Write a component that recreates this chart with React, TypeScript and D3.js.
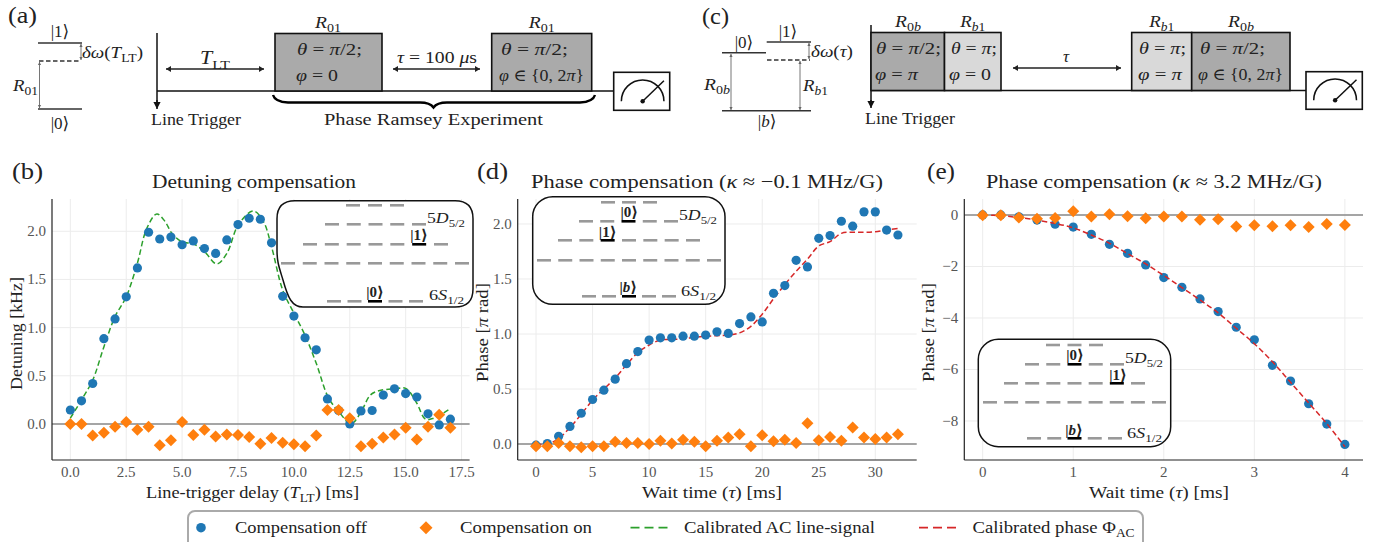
import React from "react";
import * as d3 from "d3";

const FONT = '"Liberation Serif","DejaVu Serif",serif';
const BLUE = "#1f77b4", ORANGE = "#ff7f0e", GREEN = "#2ca02c", RED = "#d62728";
const DARK = "#aaaaaa", LIGHT = "#d9d9d9", INK = "#222";

// Panel (b)
const bX = d3.range(0, 17.01, 0.5);
const bOff = [.145,.24,.42,.885,1.09,1.32,1.62,1.99,1.92,1.94,1.86,1.90,1.82,1.77,1.91,2.07,2.135,2.125,1.88,1.325,1.12,.895,.77,.26,.14,0,.135,.14,.30,.365,.315,.28,.105,-.01,.05];
const bOn = [0,0,-.12,-.09,-.03,.02,-.06,-.03,-.22,-.17,.02,-.115,-.06,-.13,-.11,-.115,-.135,-.205,-.145,-.195,-.21,-.23,-.12,.145,.145,.06,-.23,-.205,-.14,-.11,-.04,-.16,-.03,.095,-.04];
const bFitX = [0,.5,1,1.5,2,2.5,3,3.42,3.87,4.24,4.54,5,5.5,6,6.55,7,7.52,8.19,8.64,9,9.5,10,10.5,11,11.55,12.07,12.5,12.67,13.05,13.42,13.8,14.55,15,15.5,15.88,16.25,17];
const bFitY = [.06,.25,.455,.8,1.115,1.32,1.67,2.03,2.18,2.1,1.98,1.89,1.87,1.79,1.66,1.77,2.07,2.21,2.1,1.84,1.39,1.15,.92,.63,.27,.11,0,.015,.145,.3,.345,.365,.37,.215,.05,.06,.16];
const bXTicks = [0,2.5,5,7.5,10,12.5,15,17.5];
const bYTicks = [0,.5,1,1.5,2];

// Panel (d)
const dX = d3.range(0, 33);
const dOff = [-.01,.005,.07,.16,.28,.405,.49,.59,.73,.84,.945,.965,.965,.98,.98,.99,1.02,1.005,1.095,1.155,1.11,1.37,1.44,1.67,1.61,1.87,1.895,2.025,1.98,2.11,2.11,1.945,1.90];
const dOn = [-.02,-.02,.01,-.02,-.03,-.02,-.02,.02,.01,.01,0,.03,.005,.04,.02,-.02,.03,.06,.09,-.02,.08,.025,.04,.01,.19,.035,.065,.03,.15,.06,.045,.06,.09];
const dFit = [0,0,.05,.15,.27,.40,.50,.60,.72,.83,.90,.945,.95,.955,.97,.98,.985,.99,1.01,1.07,1.18,1.32,1.45,1.57,1.68,1.80,1.84,1.915,1.925,1.925,1.93,1.945,1.96];
const dXTicks = [0,5,10,15,20,25,30];
const dYTicks = [0,.5,1,1.5,2];

// Panel (e)
const eX = d3.range(0, 21).map(i => i * 0.2);
const eOff = [0,0,-.07,-.2,-.36,-.47,-.75,-1.14,-1.49,-1.94,-2.43,-2.81,-3.26,-3.75,-4.36,-4.85,-5.84,-6.45,-7.33,-8.12,-8.91];
const eOn = [-.01,-.01,-.1,-.15,-.12,.14,-.06,.03,-.05,-.13,-.06,-.06,-.19,-.17,-.45,-.4,-.44,-.4,-.47,-.35,-.39];
const eFit = [0,-.03,-.1,-.2,-.33,-.5,-.78,-1.1,-1.5,-1.9,-2.35,-2.82,-3.3,-3.8,-4.4,-5,-5.7,-6.5,-7.3,-8.1,-9];
const eXTicks = [0,1,2,3,4];
const eYTicks = [0,-2,-4,-6,-8];

type Seg = { t: string; it: boolean; sub: boolean };
function parse(s: string, sub = false): Seg[] {
  const out: Seg[] = [];
  const re = /\*([^*]+)\*|_\{((?:[^{}]|\*)+)\}|[^*_]+/g;
  let m: RegExpExecArray | null;
  while ((m = re.exec(s))) {
    if (m[1] !== undefined) out.push({ t: m[1], it: true, sub });
    else if (m[2] !== undefined) out.push(...parse(m[2], true));
    else out.push({ t: m[0], it: false, sub });
  }
  return out;
}

function Tex({ s, x, y, size = 16, w, anchor = "start", bold, fill = INK, rotate }: any) {
  const segs = parse(s);
  const drop = size * 0.25;
  let cur = 0;
  const kids = segs.map((g, i) => {
    const want = g.sub ? drop : 0;
    const dy = want - cur;
    cur = want;
    return (
      <tspan key={i} dy={dy || undefined} fontStyle={g.it ? "italic" : undefined} fontSize={g.sub ? size * 0.72 : undefined}>{g.t}</tspan>
    );
  });
  const extra: any = w ? { textLength: w, lengthAdjust: "spacingAndGlyphs" } : {};
  return (
    <text x={x} y={y} fontFamily={FONT} fontSize={size} fontWeight={bold ? "bold" : undefined} textAnchor={anchor} fill={fill}
      transform={rotate ? `rotate(-90 ${x} ${y})` : undefined} xmlSpace="preserve" {...extra}>{kids}</text>
  );
}

function Arrow({ x1, y1, x2, y2, both = true, color = "#222", sw = 1.5, head = 5, hw = 3 }: any) {
  const a = Math.atan2(y2 - y1, x2 - x1);
  const tri = (x: number, y: number, an: number) => {
    const bx = x - head * Math.cos(an), by = y - head * Math.sin(an);
    const nx = -Math.sin(an) * hw, ny = Math.cos(an) * hw;
    return `${x},${y} ${bx + nx},${by + ny} ${bx - nx},${by - ny}`;
  };
  return (
    <g>
      <line x1={x1} y1={y1} x2={x2} y2={y2} stroke={color} strokeWidth={sw} />
      <polygon points={tri(x2, y2, a)} fill={color} />
      {both && <polygon points={tri(x1, y1, a + Math.PI)} fill={color} />}
    </g>
  );
}

function Box({ x0, x1, y0, y1, fill }: any) {
  return <rect x={x0} y={y0} width={x1 - x0} height={y1 - y0} fill={fill} stroke="#111" strokeWidth={1.6} />;
}

function Meter({ x0, x1, y0, y1 }: any) {
  const cx = x0 + (x1 - x0) * 0.517, cy = y0 + (y1 - y0) * 0.76;
  const r = (x1 - x0) * 0.38;
  return (
    <g>
      <rect x={x0} y={y0} width={x1 - x0} height={y1 - y0} fill="#fff" stroke="#111" strokeWidth={1.6} />
      <path d={`M${cx - r},${cy} A${r},${r} 0 0 1 ${cx + r},${cy}`} fill="none" stroke="#111" strokeWidth={1.5} />
      <line x1={cx} y1={cy} x2={cx + r} y2={cy - r * 0.96} stroke="#111" strokeWidth={1.5} />
      <circle cx={cx} cy={cy} r={2.2} fill="#111" />
    </g>
  );
}

function Dashes({ x0, x1, n, y, hi }: any) {
  const w = 14, p = (x1 - x0 - w) / (n - 1);
  return (
    <g>
      {d3.range(n).map(i => (
        <line key={i} x1={x0 + i * p} x2={x0 + i * p + w} y1={y} y2={y} stroke={i === hi ? "#000" : "#999"} strokeWidth={2.6} />
      ))}
    </g>
  );
}

function Panel({ xs, off, on, fitX, fit, fitColor, xD, yD, xR, yR, xT, yT, xFmt, yFmt, lineOverBlue }: any) {
  const x = d3.scaleLinear().domain(xD).range(xR);
  const y = d3.scaleLinear().domain(yD).range(yR);
  const line = d3.line<number>().x((_, i) => x(fitX[i])).y(d => y(d)).curve(d3.curveCatmullRom.alpha(0.5));
  const fitPath = <path d={line(fit) || ""} fill="none" stroke={fitColor} strokeWidth={1.5} strokeDasharray="5.5 3" />;
  const [l, r] = xR, [b, t] = yR;
  return (
    <g>
      {xT.map((v: number) => <line key={v} x1={x(v)} x2={x(v)} y1={b} y2={t} stroke="#ececec" strokeWidth={1} />)}
      {yT.map((v: number) => <line key={v} x1={l} x2={r} y1={y(v)} y2={y(v)} stroke="#ececec" strokeWidth={1} />)}
      <line x1={l} x2={r} y1={y(0)} y2={y(0)} stroke="#8a8a8a" strokeWidth={1.4} />
      {!lineOverBlue && fitPath}
      {xs.map((v: number, i: number) => <circle key={i} cx={x(v)} cy={y(off[i])} r={4.6} fill={BLUE} />)}
      {lineOverBlue && fitPath}
      {xs.map((v: number, i: number) => {
        const px = x(v), py = y(on[i]), h = 6;
        return <polygon key={i} points={`${px},${py - h} ${px + h},${py} ${px},${py + h} ${px - h},${py}`} fill={ORANGE} />;
      })}
      <line x1={l} x2={l} y1={b} y2={t} stroke="#222" strokeWidth={1.2} />
      <line x1={l} x2={r} y1={b} y2={b} stroke="#222" strokeWidth={1.2} />
      {xT.map((v: number) => <text key={v} x={x(v)} y={b + 17} textAnchor="middle" fontFamily={FONT} fontSize={15} fill="#555">{xFmt(v)}</text>)}
      {yT.map((v: number) => <text key={v} x={l - 6} y={y(v) + 5} textAnchor="end" fontFamily={FONT} fontSize={15} fill="#555">{yFmt(v)}</text>)}
    </g>
  );
}

const minus = (v: number) => (v < 0 ? "\u2212" + Math.abs(v) : String(v));

const KET0 = "|0\u27e9", KET1 = "|1\u27e9", KETB = "|*b*\u27e9";

function Levels({ rows, labels }: any) {
  return (
    <g>
      {rows.map((r: any, i: number) => <Dashes key={i} {...r} />)}
      {labels.map((l: any, i: number) => <Tex key={i} {...l} />)}
    </g>
  );
}

export default function App() {
  return (
    <svg width={1376} height={542} style={{ position: "absolute", left: 0, top: 0, background: "#fff", display: "block" }}>
      {/* (a) */}
      <Tex s="(a)" x={8} y={23} size={24} w={29} />
      <line x1={38} x2={82} y1={43} y2={43} stroke="#333" strokeWidth={1.5} />
      <line x1={39} x2={81} y1={61} y2={61} stroke="#333" strokeWidth={1.5} strokeDasharray="4.5 2.5" />
      <line x1={38} x2={82} y1={109} y2={109} stroke="#333" strokeWidth={1.5} />
      <Tex s={KET1} x={60} y={37} size={17} anchor="middle" />
      <Tex s={KET0} x={60} y={129} size={17} anchor="middle" />
      <Arrow x1={39.5} y1={62} x2={39.5} y2={108} color="#666" sw={0.9} head={3} hw={1.6} />
      <Arrow x1={81} y1={44} x2={81} y2={60} color="#666" sw={0.9} head={3} hw={1.6} />
      <Tex s="*δω*(*T*_{LT})" x={82} y={58} size={17} w={61} />
      <Tex s="*R*_{01}" x={13} y={91} size={17} w={25} />
      <line x1={157} x2={157} y1={33} y2={104} stroke="#111" strokeWidth={1.5} />
      <Arrow x1={157} y1={100} x2={157} y2={109} both={false} color="#111" sw={1.5} head={7} hw={3.6} />
      <line x1={157} x2={614} y1={91} y2={91} stroke="#111" strokeWidth={1.4} />
      <Arrow x1={166} y1={69} x2={264} y2={69} />
      <Tex s="*T*_{LT}" x={215} y={64} size={18} anchor="middle" w={30} />
      <Tex s="Line Trigger" x={151} y={125} size={16} w={90} />
      <Box x0={275} x1={382} y0={33.5} y1={91} fill={DARK} />
      <Box x0={491.7} x1={591.7} y0={33.5} y1={91} fill={DARK} />
      <Meter x0={613.7} x1={669.7} y0={72.3} y1={110.3} />
      <Tex s="*R*_{01}" x={328} y={28} size={17} anchor="middle" w={26} />
      <Tex s="*R*_{01}" x={541.7} y={28} size={17} anchor="middle" w={26} />
      <Tex s="*θ* = *π*/2;" x={297} y={55} size={17} w={65} />
      <Tex s="*φ* = 0" x={296} y={81} size={17} w={42} />
      <Tex s="*θ* = *π*/2;" x={501} y={55} size={17} w={67} />
      <Tex s="*φ* ∈ {0, 2*π*}" x={499} y={81} size={17} w={85} />
      <Tex s="*τ* = 100 *μ*s" x={397} y={63} size={17} w={80} />
      <Arrow x1={393} y1={69} x2={480} y2={69} />
      <path d="M273,95 Q275,102 288,102.5 H420 Q430,102.5 433.5,107.5 Q437,102.5 447,102.5 H580 Q593,102 595,95" fill="none" stroke="#000" strokeWidth={2.4} />
      <Tex s="Phase Ramsey Experiment" x={324} y={125} size={16} w={219} />

      {/* (c) */}
      <Tex s="(c)" x={702} y={24} size={24} w={27} />
      <line x1={722} x2={766} y1={52.7} y2={52.7} stroke="#333" strokeWidth={1.5} />
      <line x1={766.7} x2={811} y1={42} y2={42} stroke="#333" strokeWidth={1.5} />
      <line x1={767} x2={810} y1={60} y2={60} stroke="#333" strokeWidth={1.5} strokeDasharray="4.5 2.5" />
      <line x1={722} x2={811} y1={110.7} y2={110.7} stroke="#333" strokeWidth={1.5} />
      <Tex s={KET1} x={788} y={37} size={17} anchor="middle" />
      <Tex s={KET0} x={744} y={48} size={17} anchor="middle" />
      <Tex s={KETB} x={767} y={127} size={17} anchor="middle" />
      <Arrow x1={731} y1={54} x2={731} y2={110} color="#666" sw={0.9} head={3} hw={1.6} />
      <Arrow x1={800} y1={61} x2={800} y2={110} color="#666" sw={0.9} head={3} hw={1.6} />
      <Arrow x1={809} y1={43} x2={809} y2={59} color="#666" sw={0.9} head={3} hw={1.6} />
      <Tex s="*δω*(*τ*)" x={811} y={57} size={17} w={42} />
      <Tex s="*R*_{0*b*}" x={704} y={90} size={17} w={26} />
      <Tex s="*R*_{*b*1}" x={803} y={91} size={17} w={25} />
      <line x1={871} x2={871} y1={25} y2={104} stroke="#111" strokeWidth={1.5} />
      <Arrow x1={871} y1={100} x2={871} y2={108} both={false} color="#111" sw={1.5} head={7} hw={3.6} />
      <line x1={871} x2={1306} y1={90.5} y2={90.5} stroke="#111" strokeWidth={1.4} />
      <Box x0={871} x1={944.5} y0={32.5} y1={90.5} fill={DARK} />
      <Box x0={944.5} x1={1001} y0={32.5} y1={90.5} fill={LIGHT} />
      <Box x0={1131.7} x1={1191.7} y0={32.5} y1={90.5} fill={LIGHT} />
      <Box x0={1191.7} x1={1290} y0={32.5} y1={90.5} fill={DARK} />
      <Meter x0={1306} x1={1362.3} y0={71.7} y1={109.3} />
      <Tex s="Line Trigger" x={865} y={124} size={16} w={90} />
      <Arrow x1={1013} y1={68} x2={1121} y2={68} />
      <Tex s="*τ*" x={1066} y={62} size={17} anchor="middle" />
      <Tex s="*R*_{0*b*}" x={908} y={27} size={17} anchor="middle" w={26} />
      <Tex s="*R*_{*b*1}" x={972.7} y={27} size={17} anchor="middle" w={25} />
      <Tex s="*R*_{*b*1}" x={1161.7} y={27} size={17} anchor="middle" w={25} />
      <Tex s="*R*_{0*b*}" x={1241} y={27} size={17} anchor="middle" w={26} />
      <Tex s="*θ* = *π*/2;" x={876} y={54} size={17} w={65} />
      <Tex s="*φ* = *π*" x={875} y={80} size={17} w={43} />
      <Tex s="*θ* = *π*;" x={951} y={54} size={17} w={46} />
      <Tex s="*φ* = 0" x={949} y={80} size={17} w={42} />
      <Tex s="*θ* = *π*;" x={1139} y={54} size={17} w={47} />
      <Tex s="*φ* = *π*" x={1138} y={80} size={17} w={44} />
      <Tex s="*θ* = *π*/2;" x={1200} y={54} size={17} w={65} />
      <Tex s="*φ* ∈ {0, 2*π*}" x={1198} y={80} size={17} w={85} />

      {/* (b) */}
      <Tex s="(b)" x={12} y={179} size={24} w={31} />
      <Tex s="Detuning compensation" x={152} y={188} size={19} w={204} />
      <Panel xs={bX} off={bOff} on={bOn} fitX={bFitX} fit={bFitY} fitColor={GREEN}
        xD={[-0.82, 17.86]} yD={[-0.374, 2.335]} xR={[52, 469.6]} yR={[460, 199]}
        xT={bXTicks} yT={bYTicks} xFmt={(v: number) => v.toFixed(1)} yFmt={(v: number) => v.toFixed(1)} />
      <path d="M295,200.7 H455 Q473,200.7 473,218.7 V289 Q473,307 455,307 H303 C292,307 288,298 283,280 C279,267 277,262 277,250 V218.7 Q277,200.7 295,200.7 Z" fill="#fff" stroke="#111" strokeWidth={1.5} />
      <Levels
        rows={[
          { x0: 346, x1: 404, n: 3, y: 205.3 },
          { x0: 325, x1: 426, n: 5, y: 224.3 },
          { x0: 303, x1: 448, n: 7, y: 244.3, hi: 5 },
          { x0: 281, x1: 469, n: 9, y: 263.3 },
          { x0: 327, x1: 423, n: 5, y: 301.3, hi: 2 },
        ]}
        labels={[
          { s: KET1, x: 419, y: 240, size: 15, anchor: "middle", bold: true },
          { s: KET0, x: 375, y: 297, size: 15, anchor: "middle", bold: true },
          { s: "5*D*_{5/2}", x: 427, y: 223, size: 15, w: 38 },
          { s: "6*S*_{1/2}", x: 429, y: 300, size: 15, w: 35 },
        ]} />
      <Tex s="Line-trigger delay (*T*_{LT}) [ms]" x={146} y={498} size={17} w={213} />
      <Tex s="Detuning [kHz]" x={22} y={390} size={17} w={113} rotate />

      {/* (d) */}
      <Tex s="(d)" x={477} y={179} size={24} w={31} />
      <Tex s="Phase compensation (*κ* ≈ −0.1 MHz/G)" x={531} y={188} size={19} w={352} />
      <Panel xs={dX} off={dOff} on={dOn} fitX={dX} fit={dFit} fitColor={RED}
        xD={[-1.62, 33.66]} yD={[-0.145, 2.227]} xR={[517.7, 916.7]} yR={[460, 199]}
        xT={dXTicks} yT={dYTicks} xFmt={String} yFmt={(v: number) => v.toFixed(1)} />
      <rect x={532.7} y={196.7} width={192.3} height={107.6} rx={20} fill="#fff" stroke="#111" strokeWidth={1.5} />
      <Levels
        rows={[
          { x0: 601, x1: 657, n: 3, y: 202.3 },
          { x0: 579, x1: 678, n: 5, y: 221.3, hi: 2 },
          { x0: 558, x1: 700, n: 7, y: 240.3, hi: 2 },
          { x0: 537, x1: 721, n: 9, y: 260.3 },
          { x0: 582, x1: 676, n: 5, y: 296.3, hi: 2 },
        ]}
        labels={[
          { s: KET0, x: 629.3, y: 217, size: 15, anchor: "middle", bold: true },
          { s: KET1, x: 607.7, y: 237, size: 15, anchor: "middle", bold: true },
          { s: KETB, x: 628.3, y: 292, size: 15, anchor: "middle", bold: true },
          { s: "5*D*_{5/2}", x: 679, y: 220, size: 15, w: 38 },
          { s: "6*S*_{1/2}", x: 681, y: 296, size: 15, w: 35 },
        ]} />
      <Tex s="Wait time (*τ*) [ms]" x={642} y={498} size={17} w={140} />
      <Tex s="Phase [*π* rad]" x={488} y={382} size={17} w={99} rotate />

      {/* (e) */}
      <Tex s="(e)" x={927} y={179} size={24} w={28} />
      <Tex s="Phase compensation (*κ* ≈ 3.2 MHz/G)" x={986} y={188} size={19} w={336} />
      <Panel xs={eX} off={eOff} on={eOn} fitX={eX} fit={eFit} fitColor={RED} lineOverBlue
        xD={[-0.203, 4.2]} yD={[-9.515, 0.62]} xR={[964.3, 1363]} yR={[460, 199]}
        xT={eXTicks} yT={eYTicks} xFmt={String} yFmt={minus} />
      <rect x={978.3} y={339.3} width={192.4} height={107.4} rx={20} fill="#fff" stroke="#111" strokeWidth={1.5} />
      <Levels
        rows={[
          { x0: 1046, x1: 1103, n: 3, y: 345 },
          { x0: 1025, x1: 1124, n: 5, y: 364.3, hi: 2 },
          { x0: 1004, x1: 1145, n: 7, y: 383.3, hi: 5 },
          { x0: 983, x1: 1166, n: 9, y: 402.3 },
          { x0: 1027, x1: 1122, n: 5, y: 438.3, hi: 2 },
        ]}
        labels={[
          { s: KET0, x: 1075, y: 360, size: 15, anchor: "middle", bold: true },
          { s: KET1, x: 1118, y: 380, size: 15, anchor: "middle", bold: true },
          { s: KETB, x: 1074, y: 435, size: 15, anchor: "middle", bold: true },
          { s: "5*D*_{5/2}", x: 1125, y: 363, size: 15, w: 38 },
          { s: "6*S*_{1/2}", x: 1127, y: 438, size: 15, w: 35 },
        ]} />
      <Tex s="Wait time (*τ*) [ms]" x={1089} y={498} size={17} w={140} />
      <Tex s="Phase [*π* rad]" x={934} y={382} size={17} w={99} rotate />

      {/* legend */}
      <rect x={188} y={511} width={955} height={42} rx={7} fill="#fff" stroke="#aaa" strokeWidth={2} />
      <circle cx={201} cy={527.7} r={4.8} fill={BLUE} />
      <Tex s="Compensation off" x={235} y={533} size={16} w={132} />
      <polygon points="426,521.2 432.5,527.7 426,534.2 419.5,527.7" fill={ORANGE} />
      <Tex s="Compensation on" x={460} y={533} size={16} w={132} />
      <line x1={630.5} x2={668} y1={527.7} y2={527.7} stroke={GREEN} strokeWidth={1.8} strokeDasharray="9 5" />
      <Tex s="Calibrated AC line-signal" x={684} y={533} size={16} w={191} />
      <line x1={919} x2={957} y1={527.7} y2={527.7} stroke={RED} strokeWidth={1.8} strokeDasharray="9 5" />
      <Tex s="Calibrated phase Φ_{AC}" x={972.6} y={533} size={16} w={162} />
    </svg>
  );
}
